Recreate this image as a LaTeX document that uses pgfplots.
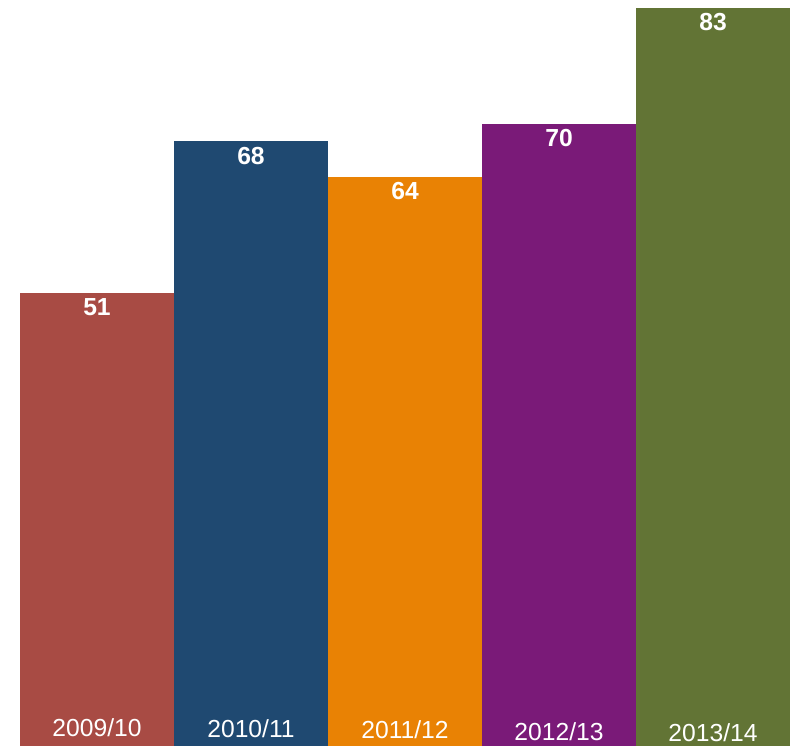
\documentclass[border=0pt]{standalone}
\usepackage{fontspec}
\setmainfont{Liberation Sans}
\usepackage{pgfplots}
\pgfplotsset{compat=1.18}
\definecolor{cred}{RGB}{168,75,68}
\definecolor{cblue}{RGB}{31,73,113}
\definecolor{corange}{RGB}{233,130,4}
\definecolor{cpurple}{RGB}{122,26,120}
\definecolor{cgreen}{RGB}{98,116,53}
\begin{document}
\begin{tikzpicture}
\begin{axis}[
  scale only axis,
  width=597pt, height=559.5pt,
  xmin=0, xmax=796, ymin=0, ymax=83.90,
  hide axis,
  clip=false,
  ybar, bar width=154, bar shift=0pt,
  nodes near coords,
  point meta=y,
  every node near coord/.append style={anchor=north, text=white, inner sep=0pt,
    yshift=-4pt, font=\bfseries\fontsize{18.5}{20}\selectfont,
    /pgf/number format/assume math mode=true},
  /pgf/number format/assume math mode=true,
]
\path (rel axis cs:0,0) rectangle (rel axis cs:1,1);
\addplot[fill=cred, draw=none] coordinates {(97,51)};
\addplot[fill=cblue, draw=none] coordinates {(251,68)};
\addplot[fill=corange, draw=none] coordinates {(405,64)};
\addplot[fill=cpurple, draw=none] coordinates {(559,70)};
\addplot[fill=cgreen, draw=none] coordinates {(713,83)};
\begin{scope}[every node/.style={anchor=base, text=white, inner sep=0pt, font=\fontsize{18.5}{20}\selectfont}]
\node at (axis cs:97,1.05) {2009/10};
\node at (axis cs:251,0.92) {2010/11};
\node at (axis cs:405,0.80) {2011/12};
\node at (axis cs:559,0.58) {2012/13};
\node at (axis cs:713,0.50) {2013/14};
\end{scope}
\end{axis}
\end{tikzpicture}
\end{document}
